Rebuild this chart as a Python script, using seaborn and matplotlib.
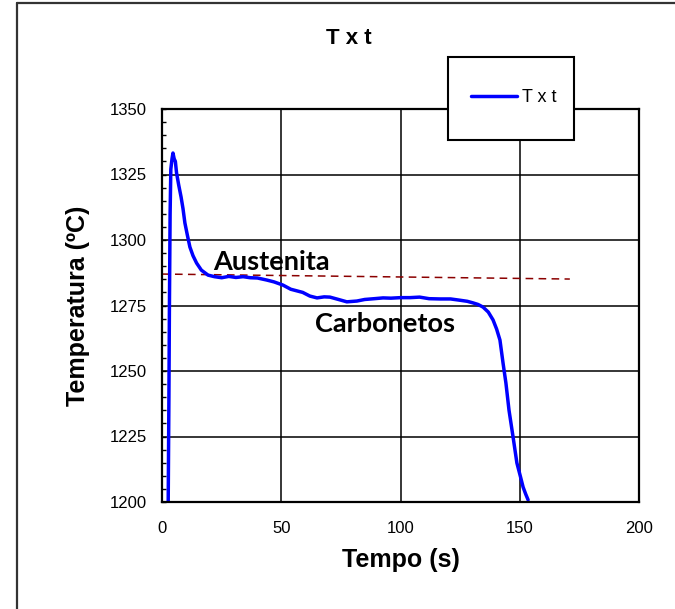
import seaborn as sns
import matplotlib.pyplot as plt
import pandas as pd
from matplotlib.patches import Rectangle
from matplotlib.lines import Line2D

# curve: time (s) and temperature (C)
tempo = [2.6, 2.9, 3.1, 3.4, 3.7, 4.2, 4.6, 5.1, 5.6, 6.1, 7.0, 8.0, 8.8, 9.6, 10.6,
         11.7, 13.0, 14.5, 16.5, 19.3, 22, 25, 28, 31, 34, 37, 40, 44, 47, 50.7,
         54, 59, 62, 65, 68, 70.4, 74, 77.5, 81.7, 85, 89, 92.7, 96, 100, 104,
         108, 112, 116.6, 121, 125, 128, 130.4, 132.5, 134.6, 136.8, 138.8, 140.3,
         141.7, 143, 144.2, 145.5, 147.2, 148.8, 150.2, 151.4, 152.5, 153.5]
temperatura = [1200, 1240, 1273, 1310, 1327, 1331, 1333.2, 1331, 1330, 1325.6, 1321,
               1316.4, 1312, 1306.5, 1302, 1297.3, 1294, 1291.2, 1288.5, 1286.6,
               1286.0, 1285.6, 1286.1, 1285.7, 1286.0, 1285.6, 1285.5, 1284.7, 1284.0,
               1282.8, 1281.2, 1280, 1278.6, 1277.9, 1278.3, 1278.2, 1277.3, 1276.4,
               1276.7, 1277.3, 1277.6, 1277.9, 1277.8, 1278.0, 1278.0, 1278.2, 1277.6,
               1277.5, 1277.5, 1277.0, 1276.6, 1276.0, 1275.4, 1274.4, 1272.5, 1269.5,
               1266, 1261.8, 1253, 1245.4, 1235, 1224.8, 1214.9, 1210, 1205.7, 1203,
               1200.8]

# dashed reference line
ref_t = [0, 171]
ref_T = [1287, 1285.1]

xticks = [0, 50, 100, 150, 200]
yticks = [1200, 1225, 1250, 1275, 1300, 1325, 1350]

df = pd.DataFrame({'Tempo': tempo, 'T': temperatura})
df_ref = pd.DataFrame({'Tempo': ref_t, 'T': ref_T})

sns.set_style('white')
plt.rcParams['font.family'] = ['Liberation Sans', 'DejaVu Sans']
plt.rcParams['text.color'] = 'black'
plt.rcParams['axes.labelcolor'] = 'black'
plt.rcParams['xtick.color'] = 'black'
plt.rcParams['ytick.color'] = 'black'

fig = plt.figure(figsize=(6.75, 6.09), dpi=100)
ax = fig.add_axes([162 / 675, 1 - 502 / 609, 477 / 675, 393 / 609])

sns.lineplot(data=df, x='Tempo', y='T', sort=False, estimator=None, color='#0000ff',
             linewidth=2.5, label='T x t', ax=ax, zorder=4)
sns.lineplot(data=df_ref, x='Tempo', y='T', sort=False, estimator=None, color='#8b0000',
             linewidth=1.1, dashes=False, ax=ax, zorder=3)
ax.lines[-1].set_dashes((5, 3.5))
ax.get_legend().remove()

ax.set_xlim(0, 200)
ax.set_ylim(1200, 1350)
ax.set_xticks(xticks)
ax.set_yticks(yticks)
ax.set_yticks(range(1200, 1351, 5), minor=True)
ax.grid(True, which='major', color='black', linewidth=1.1)
ax.set_axisbelow(True)
for s in ax.spines.values():
    s.set_color('black')
    s.set_linewidth(1.6)
    s.set_zorder(5)

ax.tick_params(axis='x', length=0, pad=14, labelsize=12)
ax.tick_params(axis='y', which='major', direction='in', length=3, width=1, pad=11, labelsize=12, left=True)
ax.tick_params(axis='y', which='minor', direction='in', length=3, width=1, left=True)

ax.set_xlabel('Tempo (s)', fontsize=18, fontweight='bold', va='center')
ax.set_ylabel('Temperatura (ºC)', fontsize=18, fontweight='bold', va='center')
ax.xaxis.set_label_coords(0.5, -0.148)
ax.yaxis.set_label_coords(-0.176, 0.5)

ax.text(21.4, 1288.5, 'Austenita', family='Lato', fontweight='bold', fontsize=19.5,
        color='black', ha='left', va='baseline', zorder=6)
ax.text(64.2, 1264.9, 'Carbonetos', family='Lato', fontweight='bold', fontsize=19.5,
        color='black', ha='left', va='baseline', zorder=6)

fig.text(349 / 675, 1 - 38 / 609, 'T x t', fontsize=16, fontweight='bold',
         ha='center', va='center')

# legend box
box = Rectangle((448 / 675, 1 - 140 / 609), 126 / 675, 83 / 609, transform=fig.transFigure,
                facecolor='white', edgecolor='black', linewidth=1.5, zorder=3)
fig.patches.append(box)
leg = fig.legend(handles=[Line2D([], [], color='#0000ff', linewidth=2.5)], labels=['T x t'],
                 loc='center', bbox_to_anchor=(514 / 675, 1 - 98 / 609), frameon=False,
                 fontsize=13, handlelength=2.5, handletextpad=0.3)
leg.set_zorder(5)

# outer chart frame
fig.add_artist(Line2D([17 / 675, 17 / 675], [0, 1 - 3 / 609], color='#333333', linewidth=1.6))
fig.add_artist(Line2D([17 / 675, 1], [1 - 3 / 609, 1 - 3 / 609], color='#333333', linewidth=1.6))

plt.savefig('out.png', dpi=100)
